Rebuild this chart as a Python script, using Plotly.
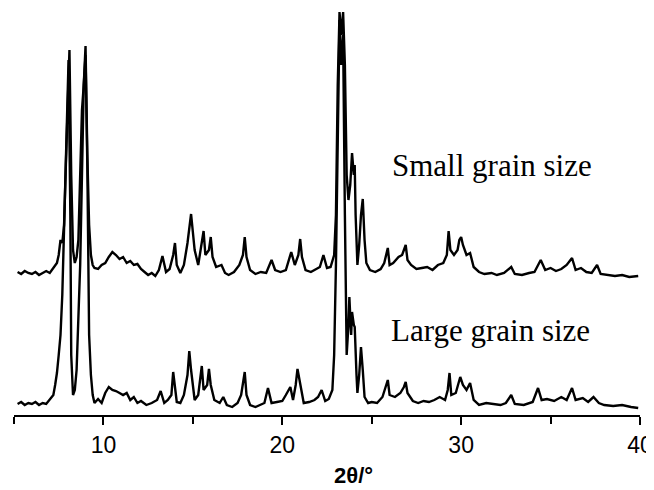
import plotly.graph_objects as go

# 2theta (deg) and intensity (a.u.)
large_x = [5.2, 5.4, 5.6, 5.8, 6.0, 6.2, 6.4, 6.6, 6.8, 7.0, 7.2, 7.3, 7.4, 7.5, 7.6, 7.7, 7.8, 7.9, 8.0, 8.05,
           8.15, 8.2, 8.3, 8.4, 8.5, 8.6, 8.7, 8.8, 8.9, 9.0, 9.1, 9.2, 9.3, 9.4, 9.5, 9.7, 9.9, 10.1, 10.3, 10.5,
           10.7, 10.9, 11.1, 11.3, 11.5, 11.7, 11.9, 12.1, 12.4, 12.7, 13.0, 13.2, 13.4, 13.6, 13.8, 13.9, 14.0,
           14.1, 14.3, 14.5, 14.7, 14.8, 14.9, 15.1, 15.3, 15.5, 15.6, 15.8, 15.9, 16.0, 16.2, 16.5, 16.7, 16.9,
           17.2, 17.5, 17.7, 17.9, 18.0, 18.2, 18.5, 18.8, 19.0, 19.2, 19.4, 19.7, 20.0, 20.2, 20.45, 20.6, 20.75,
           20.85, 21.0, 21.2, 21.5, 21.8, 22.0, 22.2, 22.4, 22.6, 22.8, 22.9, 23.0, 23.1, 23.2, 23.3, 23.4, 23.5,
           23.6, 23.7, 23.75, 23.85, 23.9, 24.0, 24.05, 24.15, 24.2, 24.3, 24.4, 24.5, 24.6, 24.8, 25.0, 25.3,
           25.6, 25.9, 26.0, 26.3, 26.6, 26.8, 26.9, 27.0, 27.3, 27.6, 27.9, 28.2, 28.5, 28.8, 29.1, 29.25, 29.35,
           29.45, 29.7, 29.95, 30.1, 30.3, 30.5, 30.7, 31.0, 31.4, 31.8, 32.2, 32.5, 32.8, 33.0, 33.5, 34.0, 34.3,
           34.5, 34.8, 35.2, 35.6, 35.9, 36.2, 36.4, 36.8, 37.1, 37.4, 37.7, 38.0, 38.5, 39.0, 39.5, 39.9]
large_y = [11, 13, 10, 12, 11, 13, 10, 12, 11, 15, 20, 30, 42, 60, 80, 120, 190, 260, 330, 355,
           200, 60, 20, 25, 45, 90, 150, 240, 330, 360, 250, 80, 40, 20, 12, 16, 12, 22, 28, 25,
           24, 22, 20, 22, 15, 18, 12, 14, 10, 12, 15, 24, 12, 15, 20, 43, 25,
           13, 12, 20, 40, 64, 45, 15, 20, 49, 25, 30, 46, 30, 15, 12, 18, 10,
           8, 12, 20, 43, 20, 10, 8, 10, 12, 27, 12, 13, 14, 20, 28, 15, 30,
           46, 30, 12, 13, 15, 18, 25, 14, 16, 25, 60, 150, 300, 395, 350, 380, 200,
           60, 90, 118, 80, 103, 90, 88, 40, 22, 40, 68, 45, 18, 12, 13, 12,
           18, 35, 20, 18, 22, 28, 33, 22, 14, 12, 14, 13, 15, 18, 15, 25, 42,
           20, 22, 38, 30, 25, 32, 15, 10, 12, 11, 10, 12, 20, 11, 10, 13, 27,
           15, 16, 14, 18, 15, 27, 15, 17, 13, 18, 12, 10, 9, 10, 8, 7]

small_x = [5.2, 5.4, 5.6, 5.8, 6.0, 6.2, 6.4, 6.6, 6.8, 7.0, 7.2, 7.4, 7.5, 7.6, 7.7, 7.8, 7.9, 8.0, 8.1, 8.2,
           8.3, 8.4, 8.5, 8.6, 8.7, 8.8, 8.9, 9.0, 9.1, 9.2, 9.3, 9.4, 9.5, 9.7, 9.9, 10.1, 10.3, 10.5, 10.7,
           10.9, 11.1, 11.3, 11.5, 11.7, 11.9, 12.1, 12.3, 12.5, 12.7, 12.9, 13.1, 13.3, 13.5, 13.7, 13.9, 14.0,
           14.1, 14.3, 14.5, 14.7, 14.9, 15.0, 15.1, 15.3, 15.5, 15.6, 15.7, 15.9, 16.0, 16.1, 16.3, 16.6, 16.8,
           17.0, 17.3, 17.6, 17.8, 17.9, 18.0, 18.2, 18.5, 18.8, 19.1, 19.4, 19.6, 19.9, 20.2, 20.5, 20.7, 20.9,
           21.0, 21.1, 21.3, 21.6, 21.9, 22.1, 22.3, 22.5, 22.7, 22.9, 23.0, 23.1, 23.2, 23.3, 23.4, 23.5, 23.6,
           23.7, 23.8, 23.9, 24.0, 24.05, 24.1, 24.2, 24.3, 24.4, 24.5, 24.6, 24.7, 24.9, 25.2, 25.5, 25.7, 25.9,
           26.0, 26.2, 26.5, 26.7, 26.9, 27.0, 27.2, 27.5, 27.8, 28.1, 28.4, 28.7, 29.0, 29.2, 29.3, 29.4, 29.6,
           29.8, 29.9, 30.0, 30.1, 30.3, 30.5, 30.7, 31.0, 31.3, 31.7, 32.0, 32.4, 32.8, 33.0, 33.4, 33.8, 34.1,
           34.45, 34.7, 35.0, 35.3, 35.6, 35.9, 36.2, 36.4, 36.7, 37.0, 37.3, 37.6, 37.8, 38.2, 38.6, 39.0, 39.4,
           39.9]
small_y = [143, 141, 144, 142, 141, 143, 140, 142, 144, 142, 147, 152, 160, 175, 172, 190, 250, 300, 365, 240,
           165, 152, 158, 175, 240, 305, 330, 369, 260, 190, 160, 150, 147, 146, 150, 152, 158, 163, 160,
           156, 158, 152, 154, 150, 151, 146, 143, 140, 142, 139, 145, 159, 143, 146, 160, 172,
           150, 142, 150, 172, 201, 185, 165, 150, 170, 184, 160, 165, 178, 158, 148, 150, 142,
           140, 143, 150, 160, 178, 158, 145, 141, 143, 142, 155, 145, 143, 145, 163, 150, 160,
           176, 158, 145, 143, 146, 148, 160, 147, 148, 160, 200, 330, 403, 380, 403, 350, 240,
           215, 230, 262, 240, 250, 200, 150, 170, 200, 216, 175, 152, 145, 143, 146, 152, 167,
           150, 152, 158, 160, 170, 155, 150, 146, 147, 148, 145, 150, 152, 160, 184, 165, 160,
           165, 175, 178, 170, 160, 162, 148, 143, 141, 142, 140, 142, 148, 141, 140, 142, 143,
           155, 145, 147, 144, 146, 150, 157, 145, 147, 143, 142, 150, 141, 140, 139, 140, 138,
           139]

labels = ["Small grain size", "Large grain size"]
x_ticks = [10, 20, 30, 40]
x_minor = [5, 15, 25, 35]

fig = go.Figure()
fig.add_trace(go.Scatter(x=large_x, y=large_y, mode="lines",
                         line=dict(color="black", width=2.4), name=labels[1]))
fig.add_trace(go.Scatter(x=small_x, y=small_y, mode="lines",
                         line=dict(color="black", width=2.4), name=labels[0]))

fig.add_annotation(x=31.75, y=250, xref="x", yref="y", text=labels[0], showarrow=False,
                   font=dict(family="Liberation Serif", size=31, color="black"))
fig.add_annotation(x=31.65, y=85, xref="x", yref="y", text=labels[1], showarrow=False,
                   font=dict(family="Liberation Serif", size=31, color="black"))
fig.add_annotation(x=(353 - 14) / 626, y=-(475 - 415) / 405, xref="paper", yref="paper",
                   xanchor="center", yanchor="middle", borderpad=0,
                   text="<b>2θ/°</b>", showarrow=False,
                   font=dict(family="Liberation Sans", size=22, color="black"))

# the page body has an 8 px margin, so the figure starts at (8, 8)
fig.update_layout(
    width=646, height=482,
    margin=dict(l=6, r=14, t=2, b=75, autoexpand=False),
    paper_bgcolor="white", plot_bgcolor="white",
    showlegend=False,
    xaxis=dict(range=[5, 40], tickmode="array", tickvals=x_ticks,
               ticktext=[str(v) for v in x_ticks], automargin=False,
               ticks="outside", ticklen=8, tickwidth=2, tickcolor="black",
               showline=True, linecolor="black", linewidth=2,
               showgrid=False, zeroline=False,
               tickfont=dict(family="Liberation Sans", size=23, color="black"),
               minor=dict(tickmode="array", tickvals=x_minor, ticks="outside",
                          ticklen=7, tickwidth=2, tickcolor="black", showgrid=False)),
    yaxis=dict(range=[0, 405], visible=False, showgrid=False, zeroline=False, automargin=False),
)

fig.write_html("out.html")
